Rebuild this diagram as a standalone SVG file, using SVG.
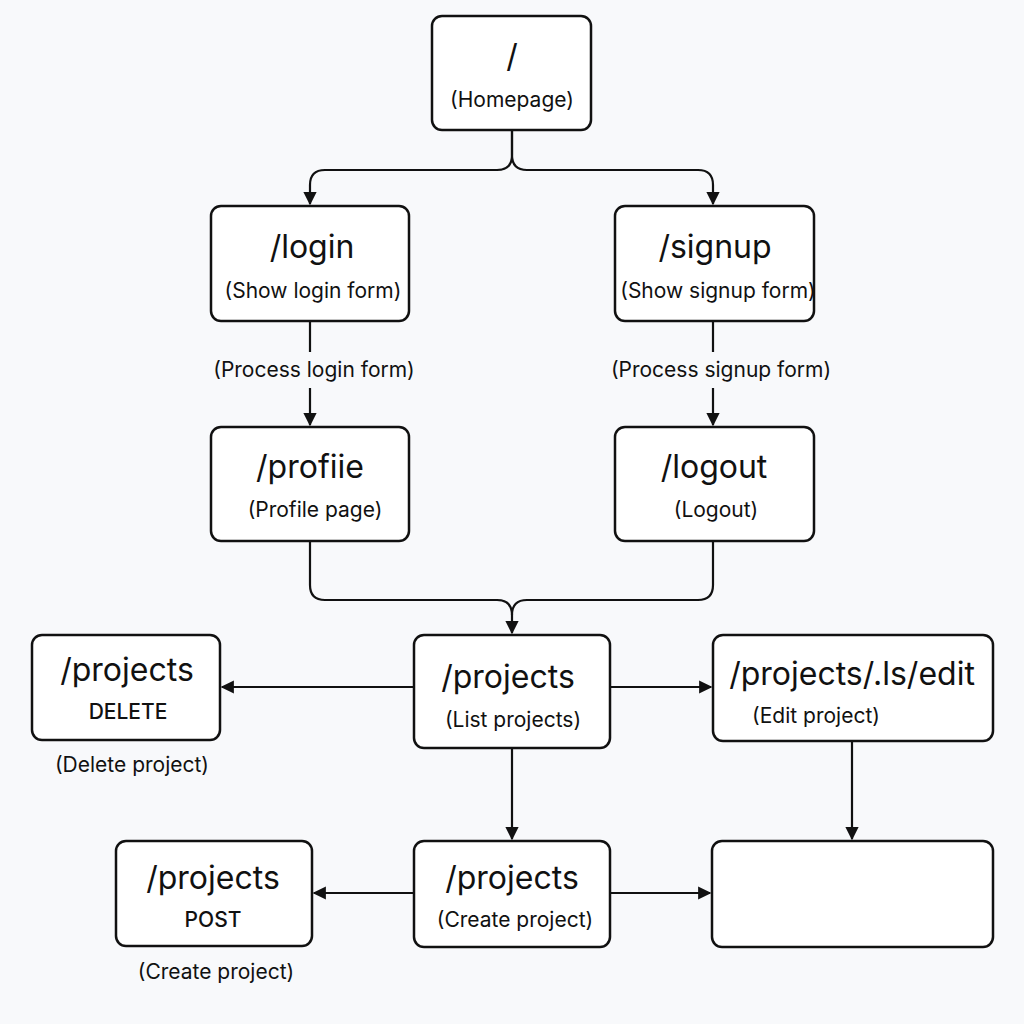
<svg xmlns="http://www.w3.org/2000/svg" width="1024" height="1024" viewBox="0 0 1024 1024">
<defs>
<marker id="ah" viewBox="0 0 10 10" refX="9" refY="5" markerWidth="6" markerHeight="6" orient="auto" markerUnits="strokeWidth">
<path d="M0,0 L10,5 L0,10 z" fill="#111"/>
</marker>
<style>
.box{fill:#fff;stroke:#111;stroke-width:2.5}
.t{font-family:Inter,Roboto,"Liberation Sans",sans-serif;font-size:32px;fill:#111;text-anchor:middle}
.s{font-family:Inter,Roboto,"Liberation Sans",sans-serif;font-size:21px;fill:#111;text-anchor:middle}
.m{font-family:Inter,Roboto,"Liberation Sans",sans-serif;font-size:21px;font-weight:500;fill:#111;text-anchor:middle}
.c{fill:none;stroke:#111;stroke-width:2.2}
</style>
</defs>
<rect width="1024" height="1024" fill="#f8f9fb"/>
<g id="connectors">
<path class="c" d="M512,130 V155 Q512,170 497,170 H325 Q310,170 310,185 V204" marker-end="url(#ah)"/>
<path class="c" d="M512,130 V155 Q512,170 527,170 H698 Q713,170 713,185 V204" marker-end="url(#ah)"/>
<path class="c" d="M310,321 V352"/>
<path class="c" d="M310,388 V425" marker-end="url(#ah)"/>
<path class="c" d="M713,321 V352"/>
<path class="c" d="M713,388 V425" marker-end="url(#ah)"/>
<path class="c" d="M310,541 V585 Q310,600 325,600 H497 Q512,600 512,615 V633" marker-end="url(#ah)"/>
<path class="c" d="M713,541 V585 Q713,600 698,600 H527 Q512,600 512,615" />
<path class="c" d="M414,687 H222" marker-end="url(#ah)"/>
<path class="c" d="M610,687 H711" marker-end="url(#ah)"/>
<path class="c" d="M852,741 V839" marker-end="url(#ah)"/>
<path class="c" d="M512,748 V839" marker-end="url(#ah)"/>
<path class="c" d="M414,893 H314" marker-end="url(#ah)"/>
<path class="c" d="M610,893 H710" marker-end="url(#ah)"/>
</g>
<g id="home"><rect class="box" x="432" y="16" width="159" height="114" rx="10"/><text class="t" x="512" y="67">/</text><text class="s" x="512" y="107">(Homepage)</text></g>
<g id="login"><rect class="box" x="211" y="206" width="198" height="115" rx="10"/><text class="t" x="312" y="258">/login</text><text class="s" x="313" y="298">(Show login form)</text></g>
<g id="signup"><rect class="box" x="615" y="206" width="199" height="115" rx="10"/><text class="t" x="715" y="258">/signup</text><text class="s" x="718" y="298">(Show signup form)</text></g>
<g id="lbl-login"><text class="s" x="314" y="377">(Process login form)</text></g>
<g id="lbl-signup"><text class="s" x="721" y="377">(Process signup form)</text></g>
<g id="profile"><rect class="box" x="211" y="427" width="198" height="114" rx="10"/><text class="t" x="310" y="478">/profiie</text><text class="s" x="315" y="517">(Profile page)</text></g>
<g id="logout"><rect class="box" x="615" y="427" width="199" height="114" rx="10"/><text class="t" x="714" y="478">/logout</text><text class="s" x="716" y="517">(Logout)</text></g>
<g id="delete"><rect class="box" x="32" y="635" width="188" height="105" rx="10"/><text class="t" x="127" y="681">/projects</text><text class="m" x="128" y="719">DELETE</text><text class="s" x="132" y="772">(Delete project)</text></g>
<g id="list"><rect class="box" x="414" y="635" width="196" height="113" rx="10"/><text class="t" x="508" y="688">/projects</text><text class="s" x="513" y="727">(List projects)</text></g>
<g id="edit"><rect class="box" x="713" y="635" width="280" height="106" rx="10"/><text class="t" x="852" y="685">/projects/.ls/edit</text><text class="s" x="816" y="723">(Edit project)</text></g>
<g id="post"><rect class="box" x="116" y="841" width="196" height="105" rx="10"/><text class="t" x="213" y="889">/projects</text><text class="m" x="213" y="927">POST</text><text class="s" x="216" y="979">(Create project)</text></g>
<g id="create"><rect class="box" x="414" y="841" width="196" height="106" rx="10"/><text class="t" x="512" y="889">/projects</text><text class="s" x="515" y="927">(Create project)</text></g>
<g id="empty"><rect class="box" x="712" y="841" width="281" height="106" rx="10"/></g>
</svg>
